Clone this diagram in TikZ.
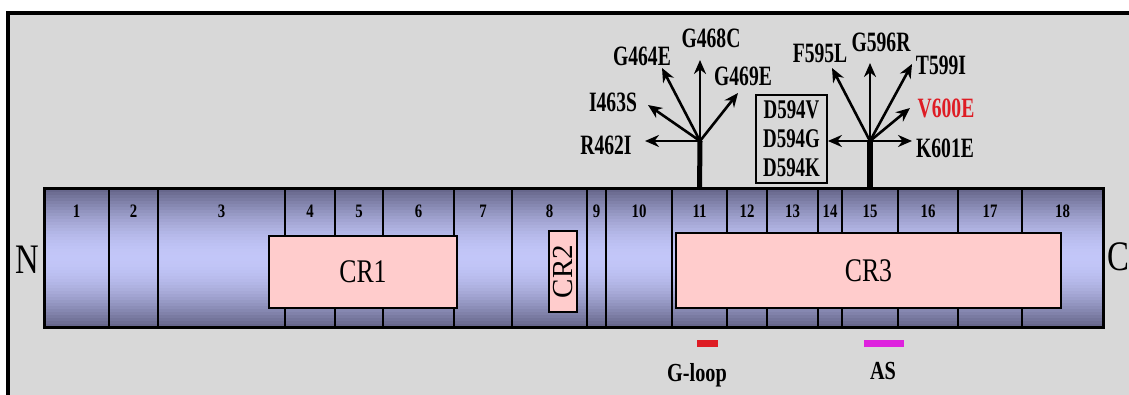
\documentclass[tikz,border=0pt]{standalone}
\usepackage{fontspec}
\setmainfont{Liberation Serif}
\newfontfamily\mutfont[FakeStretch=0.7]{Liberation Serif}
\newfontfamily\labfont[FakeStretch=0.78]{Liberation Serif}
\usetikzlibrary{arrows.meta,positioning,calc}
\definecolor{bgray}{RGB}{216,216,216}
\definecolor{exdark}{RGB}{100,100,136}
\definecolor{exlight}{RGB}{194,198,248}
\definecolor{crpink}{RGB}{255,204,204}
\definecolor{mutred}{RGB}{222,28,36}
\definecolor{asmag}{RGB}{222,34,222}

\begin{document}
\begin{tikzpicture}[x=1pt,y=-1pt,
    exon/.style={draw,line width=2.5pt,minimum height=138pt,inner sep=0pt,outer sep=0pt},
    exnum/.style={font=\labfont\bfseries\fontsize{19}{19}\selectfont,inner sep=0pt},
    crbox/.style={draw,line width=2.8pt,fill=crpink,inner sep=0pt,outer sep=0pt,
                  font=\labfont\fontsize{33}{33}\selectfont},
    mut/.style={font=\mutfont\bfseries\fontsize{28}{28}\selectfont,inner sep=0pt},
    arr/.style={-{Stealth[length=14pt,width=12pt]},line width=2.6pt},
    stem/.style={line width=6pt},
    endlab/.style={font=\labfont\fontsize{42}{42}\selectfont,inner sep=0pt},
    marker/.style={minimum height=7pt,inner sep=0pt,outer sep=0pt},
    mlab/.style={font=\labfont\bfseries\fontsize{26}{26}\selectfont,inner sep=0pt}]
    \useasboundingbox (0,0) rectangle (1129,395);
    \fill[bgray] (7,12) rectangle (1129,395);
    \draw[line width=3.5pt] (8,395) -- (8,13) -- (1129,13);

    % bar gradient, dark edges and light middle
    \foreach \k in {0,...,45}{
      \pgfmathsetmacro\p{100*sin(180*(\k+0.5)/46)}
      \fill[exlight!\p!exdark] (44,{189+3*\k}) rectangle (1103,{192.6+3*\k});
    }
    \foreach \i/\a/\b in {1/44/109,2/109/158,3/158/285,4/285/335,5/335/383,
        6/383/454,7/454/512,8/512/587,9/587/606,10/606/672,11/672/727,
        12/727/767,13/767/818,14/818/842,15/842/898,16/898/958,17/958/1022,
        18/1022/1103}{
      \node[exon,minimum width={(\b-\a)*1pt}] (e\i) at ({(\a+\b)/2},258) {};
      \node[exnum] (n\i) at ([yshift=-22pt]e\i.north) {\i};
    }
    \draw[line width=3pt] (e1.north west) rectangle (e18.south east);

    \node[crbox,minimum width=188pt,minimum height=72pt] (cr1) at (363,272) {CR1};
    \node[crbox,rotate=90,minimum width=81pt,minimum height=28pt,
          font=\fontsize{29}{29}\selectfont] (cr2) at (563,271.5) {CR2};
    \node[crbox,minimum width=385pt,minimum height=75pt] (cr3) at (868.5,270.5) {CR3};

    \node[endlab] (nterm) at (27,260) {N};
    \node[endlab] (cterm) at (1118,257) {C};

    % mutation hubs
    \coordinate (hubL) at (700,141);
    \coordinate (hubR) at (870,141);
    \draw[line width=5pt] (e11.north) -- (hubL);
    \draw[stem] (e15.north) -- (hubR);

    \node[mut] (r462) at (606,145) {R462I};
    \node[mut] (i463) at (613,102) {I463S};
    \node[mut] (g464) at (642,56) {G464E};
    \node[mut] (g468) at (711,38) {G468C};
    \node[mut] (g469) at (743,76) {G469E};
    \coordinate (t462) at (645,141);
    \coordinate (t463) at (648,105);
    \coordinate (t464) at (662,68);
    \coordinate (t468) at (700,60);
    \coordinate (t469) at (738,93);
    \foreach \t in {t462,t463,t464,t468,t469}
      \draw[arr] (hubL) -- (\t);

    \node[draw,line width=1.8pt,inner sep=2pt,align=center,
          font=\mutfont\bfseries\fontsize{27}{29}\selectfont,
          minimum width=71pt,minimum height=88pt] (d594) at (791.5,139)
          {D594V\\D594G\\D594K};
    \node[mut] (f595) at (820,53) {F595L};
    \node[mut] (g596) at (881,42) {G596R};
    \node[mut] (t599) at (941,65) {T599I};
    \node[mut,text=mutred] (v600) at (946,108) {V600E};
    \node[mut] (k601) at (945,148) {K601E};
    \coordinate (t595) at (832,68);
    \coordinate (t596) at (870,63);
    \coordinate (t599t) at (912,64);
    \coordinate (t600) at (910,108);
    \coordinate (t601) at (912,141);
    \foreach \t in {t595,t596,t599t,t600,t601}
      \draw[arr] (hubR) -- (\t);
    \draw[arr] (hubR) -- (hubR -| d594.east);

    \node[marker,fill=mutred,minimum width=21pt] (gbar) at (707.5,343.5) {};
    \node[mlab] (gloop) at (697,375) {G-loop};
    \node[marker,fill=asmag,minimum width=40pt] (abar) at (884,343.5) {};
    \node[mlab] (as) at (883,371) {AS};
\end{tikzpicture}
\end{document}
